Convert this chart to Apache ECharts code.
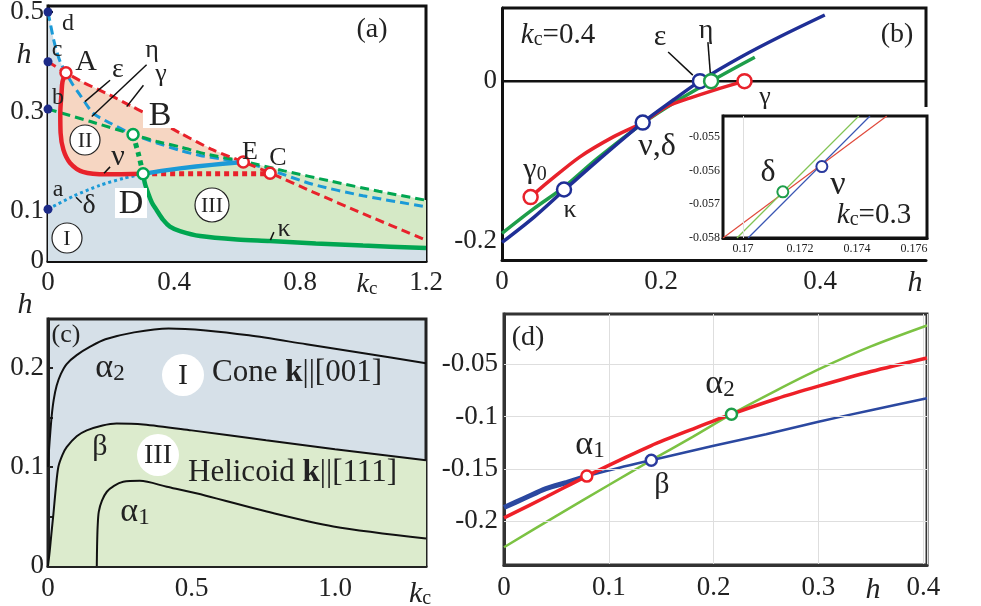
<!DOCTYPE html>
<html><head><meta charset="utf-8">
<script src="https://cdn.jsdelivr.net/npm/echarts@6/dist/echarts.min.js"></script>
<style>html,body{margin:0;padding:0;background:#fff}#c{width:981px;height:606px}</style>
</head><body><div id="c"></div>
<script>
const F = 'Liberation Serif';
// ===== panel (a): phase diagram h vs kc =====
const aXLabels = [0, 0.4, 0.8, 1.2];
const aYLabels = [0, 0.1, 0.3, 0.5];
const aYTicks = [0.05,0.1,0.15,0.2,0.25,0.3,0.35,0.4,0.45,0.5];
const aBlueDashTop = [[0,0.5],[0.008,0.475],[0.017,0.447],[0.028,0.42],[0.04,0.398],[0.057,0.378]];
const aBlueDashMid = [[0.057,0.378],[0.078,0.355],[0.102,0.333],[0.143,0.297],[0.197,0.277],[0.27,0.254],[0.346,0.237],[0.42,0.222],[0.483,0.212],[0.55,0.205],[0.62,0.199]];
const aBlueDashRight = [[0.62,0.199],[0.705,0.183],[0.84,0.154],[1.0,0.131],[1.2,0.109]];
const aRedDashLeft = [[0,0.4],[0.057,0.378]];
const aRedDashMid = [[0.057,0.378],[0.111,0.359],[0.197,0.333],[0.27,0.309],[0.302,0.299],[0.36,0.278],[0.419,0.257],[0.524,0.223],[0.62,0.199]];
const aRedDashRight = [[0.62,0.199],[0.705,0.177],[0.84,0.139],[1.0,0.095],[1.2,0.042]];
const aGreenDashLeft = [[0,0.305],[0.135,0.28],[0.27,0.254]];
const aGreenDashMid = [[0.27,0.254],[0.346,0.24],[0.42,0.229],[0.5,0.215],[0.62,0.2]];
const aGreenDashRight = [[0.62,0.2],[0.75,0.181],[0.9,0.16],[1.05,0.14],[1.2,0.122]];
const aGreenDot = [[0.27,0.254],[0.287,0.215],[0.302,0.175]];
const aBlueDot = [[0,0.104],[0.08,0.13],[0.165,0.152],[0.24,0.166],[0.302,0.175]];
const aRedSolid = [[0.057,0.378],[0.046,0.36],[0.043,0.337],[0.039,0.297],[0.04,0.257],[0.049,0.223],[0.07,0.197],[0.111,0.179],[0.187,0.174],[0.302,0.175]];
const aBlueSolid = [[0.302,0.175],[0.36,0.181],[0.419,0.186],[0.52,0.193],[0.62,0.199]];
const aRedDot = [[0.302,0.175],[0.705,0.175]];
const aKappa = [[0.302,0.175],[0.308,0.155],[0.318,0.136],[0.33,0.117],[0.345,0.102],[0.365,0.083],[0.387,0.069],[0.419,0.06],[0.483,0.05],[0.6,0.043],[0.705,0.04],[0.85,0.035],[1.0,0.031],[1.2,0.026]];
const aCorners = [[0,0],[1.2,0]];
const aAxisDots = [[0,0.5],[0,0.4],[0,0.305],[0,0.104]];
const aRedMarks = [[0.057,0.378],[0.62,0.199],[0.705,0.176]];
const aGreenMarks = [[0.27,0.254],[0.302,0.175]];
const aLeaders = [[[0.197,0.363],[0.117,0.32]],[[0.313,0.394],[0.139,0.29]],[[0.303,0.353],[0.25,0.31]],[[0.197,0.189],[0.178,0.176]],[[0.089,0.128],[0.107,0.117]],[[0.717,0.058],[0.706,0.042]]];
// ===== panel (b): kc = 0.4 =====
const bXLabels = [0, 0.2, 0.4];
const bYLabels = [-0.2, 0];
const bBlue = [[0,-0.2025],[0.04,-0.171],[0.078,-0.137],[0.12,-0.1],[0.177,-0.052],[0.215,-0.024],[0.249,0],[0.3,0.03],[0.35,0.056],[0.406,0.083]];
const bGreen = [[0,-0.191],[0.04,-0.16],[0.078,-0.133],[0.12,-0.097],[0.177,-0.053],[0.22,-0.025],[0.263,0],[0.29,0.015],[0.318,0.03]];
const bRed = [[0.036,-0.1455],[0.06,-0.125],[0.098,-0.095],[0.14,-0.07],[0.177,-0.052],[0.207,-0.032],[0.237,-0.021],[0.266,-0.0115],[0.305,0]];
const bZero = [[0,0],[0.5333,0]];
const bBlueMarks = [[0.078,-0.136],[0.177,-0.052],[0.249,0]];
const bGreenMarks = [[0.263,0]];
const bRedMarks = [[0.036,-0.1455],[0.305,0]];
const bLeaders = [[[0.209,0.0365],[0.24,0.0075]],[[0.259,0.049],[0.262,0.01]]];
// inset kc = 0.3
const iXLabels = [0.17, 0.172, 0.174, 0.176];
const iYLabels = [-0.058, -0.057, -0.056, -0.055];
const iRed = [[0.1693,-0.058],[0.17505,-0.05438]];
const iGreen = [[0.16979,-0.058],[0.17407,-0.05438]];
const iBlue = [[0.17018,-0.058],[0.17446,-0.05438]];
const iDelta = [[0.1714,-0.05663]];
const iNu = [[0.17277,-0.05588]];
// ===== panel (c) =====
const cXLabels = [0, 0.5, 1.0];
const cXTicks = [0.5, 1.0];
const cYLabels = [0, 0.1, 0.2];
const cYTicks = [0.05,0.1,0.15,0.2];
const cAlpha2 = [[0,0.1],[0.003,0.115],[0.008,0.135],[0.013,0.152],[0.02,0.168],[0.03,0.182],[0.045,0.194],[0.065,0.204],[0.1,0.213],[0.15,0.222],[0.2,0.229],[0.3,0.236],[0.42,0.24],[0.55,0.238],[0.7,0.233],[0.9,0.224],[1.1,0.215],[1.317,0.2047]];
const cBeta = [[0,0],[0.006,0.015],[0.012,0.033],[0.019,0.053],[0.027,0.078],[0.036,0.1],[0.05,0.112],[0.065,0.12],[0.1,0.131],[0.135,0.137],[0.19,0.142],[0.239,0.144],[0.332,0.143],[0.5,0.137],[0.76,0.127],[1.0,0.118],[1.317,0.1068]];
const cAlpha1 = [[0.17,0],[0.171,0.02],[0.173,0.04],[0.177,0.055],[0.188,0.066],[0.205,0.075],[0.23,0.081],[0.262,0.085],[0.32,0.086],[0.414,0.08],[0.55,0.071],[0.762,0.055],[0.994,0.04],[1.317,0.0278]];
const cCorners = [[1.317,0],[0,0]];
// ===== panel (d) =====
const dYLabels = [-0.2, -0.15, -0.1, -0.05];
const dGreen = [[0,-0.225],[0.05,-0.195],[0.1,-0.1655],[0.1405,-0.1418],[0.18,-0.1195],[0.217,-0.0978],[0.26,-0.075],[0.3,-0.055],[0.35,-0.033],[0.4035,-0.013]];
const dRed = [[0,-0.197],[0.04,-0.177],[0.079,-0.157],[0.11,-0.142],[0.14,-0.128],[0.18,-0.112],[0.217,-0.0978],[0.26,-0.083],[0.3,-0.071],[0.35,-0.057],[0.4035,-0.044]];
const dBlueThick = [[0,-0.187],[0.02,-0.178],[0.04,-0.169],[0.06,-0.163],[0.079,-0.157]];
const dBlue = [[0.079,-0.157],[0.11,-0.149],[0.1405,-0.1418],[0.2,-0.128],[0.25,-0.117],[0.3,-0.105],[0.35,-0.094],[0.4035,-0.0825]];
const dAlpha1 = [[0.079,-0.157]];
const dBeta = [[0.1405,-0.1418]];
const dAlpha2 = [[0.217,-0.0978]];

// ---------- helpers ----------
function join(...arrs){ const out=[]; arrs.forEach(a=>a.forEach(p=>{ const l=out[out.length-1]; if(!(l && l[0]===p[0] && l[1]===p[1])) out.push(p); })); return out; }
function line(ai, data, color, width, type, smooth, z){
  return {type:'line', xAxisIndex:ai, yAxisIndex:ai, data:data, symbol:'none', silent:true, animation:false,
    smooth: smooth===undefined?0.25:smooth, z: z||3,
    lineStyle:{color:color, width:width, type:type||'solid', cap:'butt'}};
}
function poly(ai, pts, color){
  return {type:'custom', coordinateSystem:'cartesian2d', xAxisIndex:ai, yAxisIndex:ai, silent:true, z:1, animation:false,
    data:[pts[0]],
    renderItem:function(params, api){ return {type:'polygon', shape:{points: pts.map(p=>api.coord(p))}, style:{fill:color}}; }};
}
function marks(ai, data, color, size, bw, filled){
  return {type:'scatter', xAxisIndex:ai, yAxisIndex:ai, data:data, symbol:'circle', symbolSize:size, silent:true, z:6, animation:false,
    itemStyle:{color: filled?color:'#fff', borderColor:color, borderWidth:bw, opacity:1}};
}
function gridLines(ai, xs, ys){
  const d = []; xs.forEach(v=>d.push({xAxis:v})); ys.forEach(v=>d.push({yAxis:v}));
  return {type:'line', xAxisIndex:ai, yAxisIndex:ai, data:[], z:1, silent:true, animation:false,
    markLine:{silent:true, symbol:'none', animation:false, label:{show:false}, lineStyle:{color:'#dedede', type:'solid', width:1}, data:d}};
}
const lab = (size, extra)=>Object.assign({fontFamily:F, fontSize:size, color:'#222'}, extra||{});
const AX = (c,w)=>({show:true, onZero:false, lineStyle:{color:c||'#111', width:w||3}});

// ---------- colors ----------
const RED='#e8222b', LBLUE='#1b9ad7', GRN='#00a651';
const cRegionI='#d4e0e8', cRegionII='#f6d6c2', cRegionIII='#d5e9c6';

const series = [];
// (a) fills
series.push(poly(0, join([aCorners[0]], aBlueDashTop, aRedDashMid, aGreenDashRight, [aCorners[1]]), cRegionI));
series.push(poly(0, join(aRedSolid, aBlueSolid, aRedDashMid.slice().reverse()), cRegionII));
series.push(poly(0, join(aBlueSolid, aGreenDashRight, aKappa.slice().reverse()), cRegionIII));
// (a) lines
series.push(line(0, join(aBlueDashTop, aBlueDashMid, aBlueDashRight), LBLUE, 3, [9,5]));
series.push(line(0, join(aGreenDashLeft, aGreenDashMid, aGreenDashRight), GRN, 3, [9,5]));
series.push(line(0, join(aRedDashLeft, aRedDashMid, aRedDashRight), RED, 3, [9,5]));
series.push(line(0, aBlueDot, LBLUE, 3, [3,3]));
series.push(line(0, aGreenDot, GRN, 5, [5,4]));
series.push(line(0, aRedDot, RED, 5, [5,4], 0));
series.push(line(0, aRedSolid, RED, 4.5, 'solid', 0.3, 4));
series.push(line(0, aBlueSolid, LBLUE, 4.5, 'solid', 0.3, 4));
series.push(line(0, aKappa, GRN, 4.5, 'solid', 0.3, 4));
aLeaders.forEach(l=>series.push(line(0, l, '#111', 1.5, 'solid', 0, 5)));
series.push(marks(0, aAxisDots, '#1c2a88', 9, 0, true));
series.push(marks(0, aRedMarks, RED, 11, 2.5));
series.push(marks(0, aGreenMarks, GRN, 11, 2.5));
// (b)
series.push(line(1, bZero, '#111', 2.5, 'solid', 0, 2));
series.push(line(1, bGreen, '#1e9e4a', 3.5, 'solid', 0.3));
series.push(line(1, bRed, RED, 3.5, 'solid', 0.3));
series.push(line(1, bBlue, '#1f2f96', 3.5, 'solid', 0.3));
bLeaders.forEach(l=>series.push(line(1, l, '#111', 1.5, 'solid', 0, 5)));
series.push(marks(1, bBlueMarks, '#1f2f96', 14, 2.5));
series.push(marks(1, bGreenMarks, '#1e9e4a', 14, 2.5));
series.push(marks(1, bRedMarks, RED, 14, 2.5));
// inset
series.push(gridLines(2, iXLabels, iYLabels));
series.push(line(2, iRed, '#e04a3c', 1.2, 'solid', 0));
series.push(line(2, iGreen, '#82c454', 1.2, 'solid', 0));
series.push(line(2, iBlue, '#3a56b4', 1.2, 'solid', 0));
series.push(marks(2, iDelta, '#1e9e4a', 11, 2));
series.push(marks(2, iNu, '#2a3a9e', 11, 2));
// (c)
series.push(poly(3, join(cBeta, cCorners), '#dcebcd'));
series.push(line(3, cAlpha2, '#111', 2, 'solid', 0.3));
series.push(line(3, cBeta, '#111', 2, 'solid', 0.3));
series.push(line(3, cAlpha1, '#111', 2, 'solid', 0.3));
// (d)
series.push(gridLines(4, [], dYLabels));
series.push(line(4, dGreen, '#7cc243', 2.5, 'solid', 0.3));
series.push(line(4, dBlueThick, '#2b48a0', 5, 'solid', 0.3));
series.push(line(4, dBlue, '#2b48a0', 2.5, 'solid', 0.3));
series.push(line(4, dRed, '#ee2028', 3.5, 'solid', 0.3));
series.push(marks(4, dAlpha1, '#ee2028', 11, 2.5));
series.push(marks(4, dBeta, '#2a3a9e', 11, 2.5));
series.push(marks(4, dAlpha2, '#1e9e4a', 11, 2.5));

// ---------- annotations (text) ----------
function rich(size){ const s=Math.round(size*0.68), lh=Math.round(size*0.3);
  return { n:{fontFamily:F, fontSize:size, lineHeight:size, verticalAlign:'bottom', fill:'#222'},
           i:{fontFamily:F, fontSize:size, lineHeight:size, verticalAlign:'bottom', fontStyle:'italic', fill:'#222'},
           b:{fontFamily:F, fontSize:size, lineHeight:size, verticalAlign:'bottom', fontWeight:'bold', fill:'#222'},
           s:{fontFamily:F, fontSize:s, lineHeight:lh, verticalAlign:'bottom', fill:'#222'} }; }
const G = [];
function T(x, y, text, size, align){ G.push({type:'text', x:x, y:y, z:60, silent:true,
  style:{text:text, rich:rich(size), fontFamily:F, fontSize:size, fill:'#222', align:align||'center', verticalAlign:'middle', textAlign:align||'center', textVerticalAlign:'middle'}}); }
function C(x, y, r, text, size, stroke){ G.push({type:'circle', z:55, silent:true, shape:{cx:x, cy:y, r:r}, style:{fill:'#fff', stroke:stroke||null, lineWidth:stroke?1.2:0}}); T(x, y+1, '{n|'+text+'}', size); }
function W(x, y, w, h){ G.push({type:'rect', z:55, silent:true, shape:{x:x, y:y, width:w, height:h}, style:{fill:'#fff'}}); }
// frame of (b): top edge and upper part of right edge (the inset interrupts it)
G.push({type:'polyline', z:40, silent:true, shape:{points:[[502,8],[926,8],[926,107]]}, style:{stroke:'#111', lineWidth:3, fill:null}});
// (a)
T(372,30,'{n|(a)}',28); T(24,55,'{i|h}',30);
T(68,24,'{n|d}',24); T(57,50,'{n|c}',24); T(58,98,'{n|b}',24); T(58,190,'{n|a}',24);
T(86,62,'{n|A}',30);
W(143,98,34,30); T(160,116,'{n|B}',34);
T(250,152,'{n|E}',26); T(278,158,'{n|C}',26);
W(115,188,32,30); T(131,204,'{n|D}',34);
T(118,70,'{n|ε}',28); T(152,50,'{n|η}',26); T(161,74,'{n|γ}',26); T(118,157,'{n|ν}',30); T(89,206,'{n|δ}',28); T(284,229,'{n|κ}',26);
C(85,140,15,'II',22,'#222'); C(212,205,17,'III',22,'#222'); C(67,238,15,'I',22,'#222');
T(367,285,'{i|k}{s|c}',28);
// (b)
T(558,35,'{i|k}{s|c}{n|=0.4}',29); T(897,35,'{n|(b)}',28);
T(660,37,'{n|ε}',30); T(706,31,'{n|η}',28); T(765,97,'{n|γ}',26); T(535,170,'{n|γ}{s|0}',30); T(570,210,'{n|κ}',26); T(657,147,'{n|ν,δ}',32);
T(768,173,'{n|δ}',32); T(838,185,'{n|ν}',34); T(874,215,'{i|k}{s|c}{n|=0.3}',29);
T(915,283,'{i|h}',30);
// (c)
T(66,335,'{n|(c)}',26); T(25,305,'{i|h}',30);
T(110,368,'{n|α}{s|2}',34); T(100,447,'{n|β}',30); T(135,512,'{n|α}{s|1}',34);
C(183,375,21,'I',30); C(158,455,21,'III',28);
T(212,373,'{n|Cone }{b|k}{n|||[001]}',31,'left');
T(188,473,'{n|Helicoid }{b|k}{n|||[111]}',31,'left');
T(420,594,'{i|k}{s|c}',30);
// (d)
T(528,338,'{n|(d)}',28);
T(720,384,'{n|α}{s|2}',34); T(590,445,'{n|α}{s|1}',34); T(662,485,'{n|β}',30);
T(873,590,'{i|h}',30);

const option = {
  animation:false,
  backgroundColor:'#fff',
  grid:[
    {left:48, top:6, width:378, height:255, show:true, borderColor:'#111', borderWidth:3, backgroundColor:'#fff', outerBoundsMode:'none', containLabel:false},
    {left:502, top:8, width:424, height:252, show:false, outerBoundsMode:'none', containLabel:false},
    {left:723, top:116, width:204, height:122, show:true, borderColor:'#111', borderWidth:3, backgroundColor:'#fff', outerBoundsMode:'none', containLabel:false, z:3},
    {left:48, top:319, width:378, height:247, show:true, borderColor:'#222', borderWidth:3, backgroundColor:'#d6e0e8', outerBoundsMode:'none', containLabel:false},
    {left:504, top:314, width:423, height:251, show:true, borderColor:'#333', borderWidth:3, backgroundColor:'#fff', outerBoundsMode:'none', containLabel:false}
  ],
  xAxis:[
    {gridIndex:0, type:'value', min:0, max:1.2, interval:0.2, axisLine:AX(), axisTick:{show:true, inside:true, length:6, lineStyle:{color:'#111', width:2}}, axisLabel:lab(27,{customValues:aXLabels, margin:8}), splitLine:{show:false}},
    {gridIndex:1, type:'value', min:0, max:0.5333, axisLine:AX(), axisTick:{show:false}, axisLabel:lab(27,{customValues:bXLabels, margin:8}), splitLine:{show:false}},
    {gridIndex:2, type:'value', min:0.1693, max:0.17646, axisLine:AX(), axisTick:{show:false}, axisLabel:lab(12,{customValues:iXLabels, margin:5}), splitLine:{show:false}},
    {gridIndex:3, type:'value', min:0, max:1.317, axisLine:AX('#222'), axisTick:{show:true, inside:true, length:5, customValues:cXTicks, lineStyle:{color:'#222', width:2}}, axisLabel:lab(27,{customValues:cXLabels, margin:9, formatter:v=>v===0?'0':v.toFixed(1)}), splitLine:{show:false}},
    {gridIndex:4, type:'value', min:0, max:0.4035, interval:0.1, axisLine:AX('#333'), axisTick:{show:false}, axisLabel:lab(27,{margin:9}), splitLine:{show:true, lineStyle:{color:'#dedede', width:1}}}
  ],
  yAxis:[
    {gridIndex:0, type:'value', min:0, max:0.512, axisLine:AX(), axisTick:{show:true, inside:true, length:5, customValues:aYTicks, lineStyle:{color:'#111', width:2}}, axisLabel:lab(27,{customValues:aYLabels, margin:4}), splitLine:{show:false}},
    {gridIndex:1, type:'value', min:-0.2245, max:0.0918, axisLine:AX(), axisTick:{show:false}, axisLabel:lab(27,{customValues:bYLabels, margin:5}), splitLine:{show:false}},
    {gridIndex:2, type:'value', min:-0.058, max:-0.05438, axisLine:AX(), axisTick:{show:false}, axisLabel:lab(12,{customValues:iYLabels, margin:3}), splitLine:{show:false}},
    {gridIndex:3, type:'value', min:0, max:0.2495, axisLine:AX('#222'), axisTick:{show:true, inside:true, length:5, customValues:cYTicks, lineStyle:{color:'#222', width:2}}, axisLabel:lab(27,{customValues:cYLabels, margin:4}), splitLine:{show:false}},
    {gridIndex:4, type:'value', min:-0.242, max:-0.002, axisLine:AX('#333'), axisTick:{show:false}, axisLabel:lab(27,{customValues:dYLabels, margin:6}), splitLine:{show:false}}
  ],
  series: series,
  graphic: G
};
const chart = echarts.init(document.getElementById('c'), null, {renderer:'canvas'});
chart.setOption(option);
</script></body></html>
